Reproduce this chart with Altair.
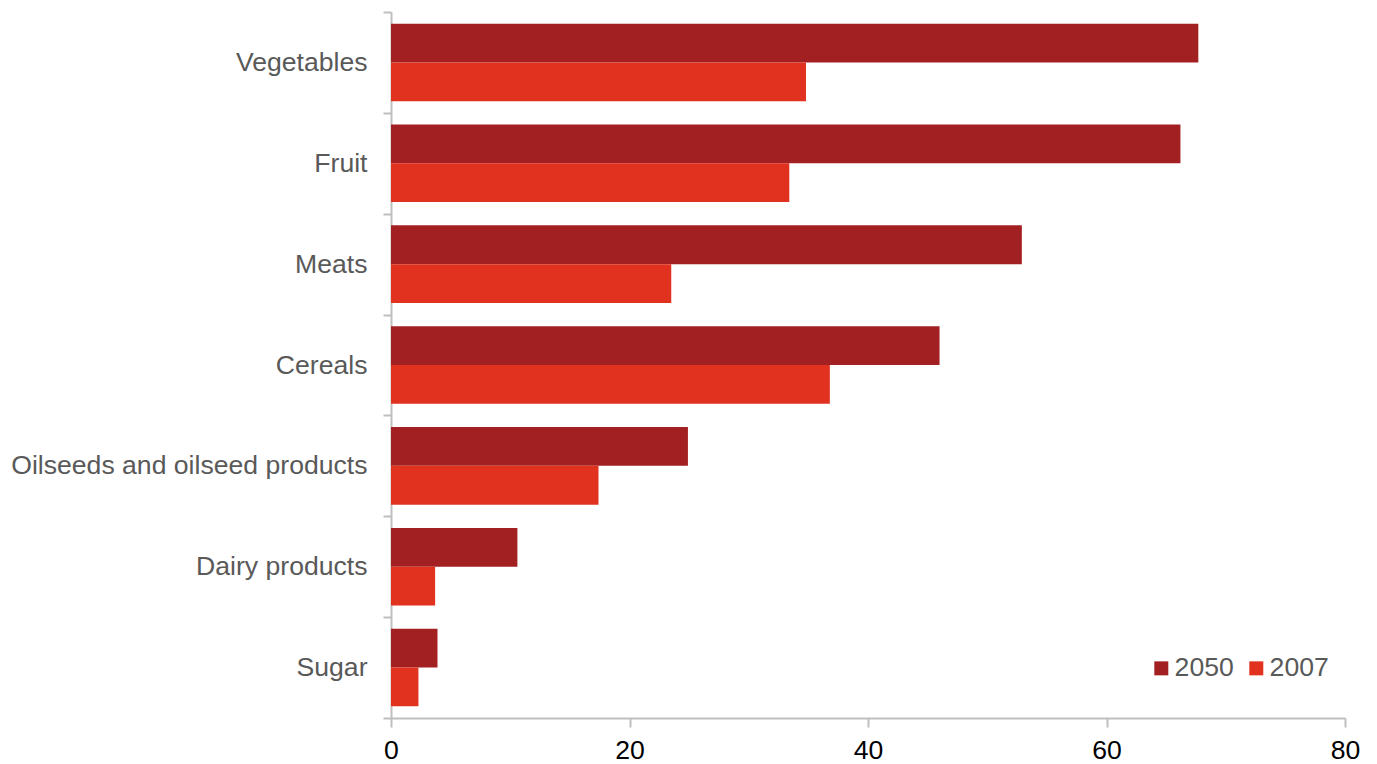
import altair as alt
import pandas as pd

categories = ["Vegetables", "Fruit", "Meats", "Cereals", "Oilseeds and oilseed products", "Dairy products", "Sugar"]
values_2050 = [67.7, 66.2, 52.9, 46.0, 24.9, 10.6, 3.9]
values_2007 = [34.8, 33.4, 23.5, 36.8, 17.4, 3.7, 2.3]
series = ["2050", "2007"]
colors = ["#A32022", "#E0321F"]

rows = []
for c, a, b in zip(categories, values_2050, values_2007):
    rows.append({"category": c, "year": "2050", "value": a})
    rows.append({"category": c, "year": "2007", "value": b})
df = pd.DataFrame(rows)

FONT = "Liberation Sans"
FS = 26.6

chart = alt.Chart(df).mark_bar().encode(
    y=alt.Y("category:N", sort=categories, title=None,
            scale=alt.Scale(paddingInner=0, paddingOuter=0),
            axis=alt.Axis(tickBand="extent", domainColor="#BFBFBF", domainWidth=2,
                          tickColor="#BFBFBF", tickWidth=2, tickSize=8,
                          labelFontSize=FS, labelColor="#595959", labelFont=FONT,
                          labelPadding=16, labelLimit=0)),
    yOffset=alt.YOffset("year:N", sort=series,
                        scale=alt.Scale(paddingOuter=0.3, paddingInner=0)),
    x=alt.X("value:Q", title=None, scale=alt.Scale(domain=[0, 80], nice=False),
            axis=alt.Axis(values=[0, 20, 40, 60, 80], grid=False, domainColor="#BFBFBF",
                          domainWidth=2, tickColor="#BFBFBF", tickWidth=2, tickSize=9,
                          labelFontSize=FS, labelColor="#000000", labelFont=FONT,
                          labelPadding=10, labelFlush=False)),
    color=alt.Color("year:N", sort=series,
                    scale=alt.Scale(domain=series, range=colors),
                    legend=alt.Legend(title=None, orient="none", direction="horizontal",
                                      legendX=757, legendY=643, padding=0,
                                      symbolType="square",
                                      symbolSize=196, symbolStrokeWidth=0,
                                      labelFontSize=FS, labelColor="#595959",
                                      labelFont=FONT, columnPadding=9, labelOffset=0)),
).properties(
    width=954, height=706,
    autosize=alt.AutoSizeParams(type="none"),
    padding={"left": 383, "top": 4, "right": 20, "bottom": 48},
).configure_view(stroke=None)

chart.save("out.html", embed_options={"renderer": "svg", "actions": False})
